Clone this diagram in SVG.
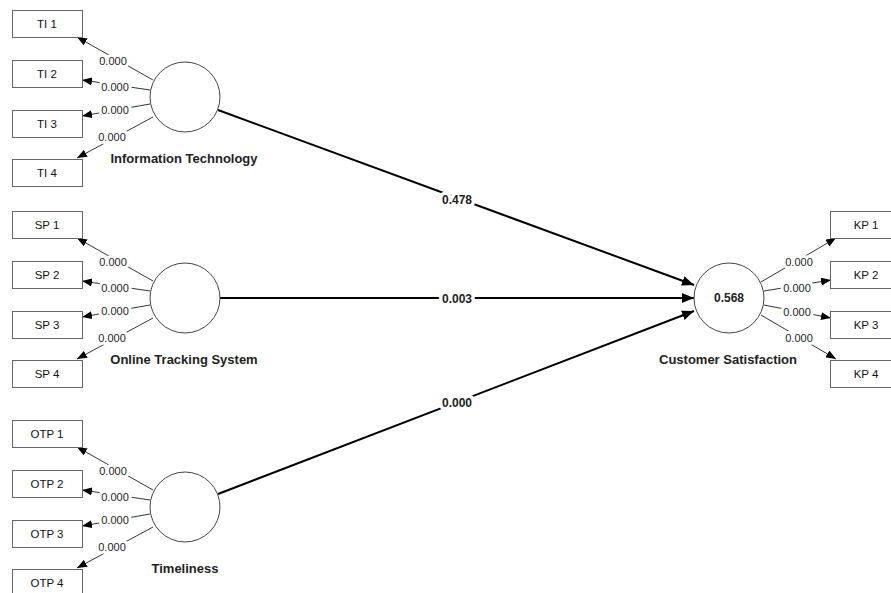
<svg xmlns="http://www.w3.org/2000/svg" width="891" height="593" viewBox="0 0 891 593">
<defs>
<style>
.box{fill:#fff;stroke:#666;stroke-width:1}
.lv{fill:#fff;stroke:#444;stroke-width:1}
.bt{font-family:"Liberation Sans",Arial,sans-serif;font-size:11.5px;fill:#111;text-anchor:middle}
.ld{font-family:"Liberation Sans",Arial,sans-serif;font-size:11px;fill:#222;text-anchor:middle;paint-order:stroke;stroke:#fff;stroke-width:6px;stroke-linejoin:round}
.pc{font-family:"Liberation Sans",Arial,sans-serif;font-size:12px;font-weight:bold;fill:#222;text-anchor:middle;paint-order:stroke;stroke:#fff;stroke-width:7px;stroke-linejoin:round}
.nl{font-family:"Liberation Sans",Arial,sans-serif;font-size:13px;font-weight:bold;fill:#222;text-anchor:middle}
.r2{font-family:"Liberation Sans",Arial,sans-serif;font-size:12px;font-weight:bold;fill:#222;text-anchor:middle}
.ol{stroke:#333;stroke-width:1;fill:none;marker-end:url(#a)}
.pl{stroke:#000;stroke-width:2;fill:none;marker-end:url(#b)}
</style>
<marker id="a" viewBox="0 0 10 8" refX="10" refY="4" markerWidth="10" markerHeight="8" orient="auto" markerUnits="userSpaceOnUse"><path d="M0,0L10,4L0,8z" fill="#000"/></marker>
<marker id="b" viewBox="0 0 12 10" refX="12" refY="5" markerWidth="12" markerHeight="10" orient="auto" markerUnits="userSpaceOnUse"><path d="M0,0L12,5L0,10z" fill="#000"/></marker>
</defs>
<rect width="891" height="593" fill="#fff"/>

<g id="connectors">
<!-- IT outer -->
<line class="ol" x1="153" y1="80" x2="77" y2="37"/>
<line class="ol" x1="150" y1="90" x2="82" y2="80"/>
<line class="ol" x1="150" y1="104" x2="82" y2="116"/>
<line class="ol" x1="153" y1="117" x2="77" y2="158"/>
<!-- SP outer -->
<line class="ol" x1="153" y1="281" x2="77" y2="238"/>
<line class="ol" x1="150" y1="291" x2="82" y2="281"/>
<line class="ol" x1="150" y1="305" x2="82" y2="317"/>
<line class="ol" x1="153" y1="318" x2="77" y2="359"/>
<!-- T outer -->
<line class="ol" x1="153" y1="490" x2="77" y2="447"/>
<line class="ol" x1="150" y1="500" x2="82" y2="490"/>
<line class="ol" x1="150" y1="514" x2="82" y2="526"/>
<line class="ol" x1="153" y1="527" x2="77" y2="568"/>
<!-- CS outer -->
<line class="ol" x1="761" y1="282" x2="836" y2="238"/>
<line class="ol" x1="764" y1="291" x2="831" y2="280"/>
<line class="ol" x1="764" y1="305" x2="831" y2="318"/>
<line class="ol" x1="761" y1="315" x2="836" y2="359"/>
<!-- paths -->
<line class="pl" x1="218" y1="110" x2="694" y2="285"/>
<line class="pl" x1="220" y1="298" x2="694" y2="298"/>
<line class="pl" x1="218" y1="494" x2="694" y2="311"/>
<!-- loadings -->
<text class="ld" x="113" y="65">0.000</text>
<text class="ld" x="115" y="91">0.000</text>
<text class="ld" x="115" y="114">0.000</text>
<text class="ld" x="112" y="141">0.000</text>
<text class="ld" x="113" y="266">0.000</text>
<text class="ld" x="115" y="292">0.000</text>
<text class="ld" x="115" y="315">0.000</text>
<text class="ld" x="112" y="342">0.000</text>
<text class="ld" x="113" y="475">0.000</text>
<text class="ld" x="115" y="501">0.000</text>
<text class="ld" x="115" y="524">0.000</text>
<text class="ld" x="112" y="551">0.000</text>
<text class="ld" x="799" y="266">0.000</text>
<text class="ld" x="797" y="292">0.000</text>
<text class="ld" x="797" y="316">0.000</text>
<text class="ld" x="799" y="342">0.000</text>
<text class="pc" x="457" y="204">0.478</text>
<text class="pc" x="457" y="303">0.003</text>
<text class="pc" x="457" y="407">0.000</text>
</g>

<g id="TI1"><rect class="box" x="12.5" y="10.5" width="70" height="27"/><text class="bt" x="47" y="28">TI 1</text></g>
<g id="TI2"><rect class="box" x="12.5" y="60.5" width="70" height="27"/><text class="bt" x="47" y="78">TI 2</text></g>
<g id="TI3"><rect class="box" x="12.5" y="110.5" width="70" height="27"/><text class="bt" x="47" y="128">TI 3</text></g>
<g id="TI4"><rect class="box" x="12.5" y="159.5" width="70" height="27"/><text class="bt" x="47" y="177">TI 4</text></g>

<g id="SP1"><rect class="box" x="12.5" y="211.5" width="70" height="27"/><text class="bt" x="47" y="229">SP 1</text></g>
<g id="SP2"><rect class="box" x="12.5" y="261.5" width="70" height="27"/><text class="bt" x="47" y="279">SP 2</text></g>
<g id="SP3"><rect class="box" x="12.5" y="311.5" width="70" height="27"/><text class="bt" x="47" y="329">SP 3</text></g>
<g id="SP4"><rect class="box" x="12.5" y="360.5" width="70" height="27"/><text class="bt" x="47" y="378">SP 4</text></g>

<g id="OTP1"><rect class="box" x="12.5" y="420.5" width="70" height="27"/><text class="bt" x="47" y="438">OTP 1</text></g>
<g id="OTP2"><rect class="box" x="12.5" y="470.5" width="70" height="27"/><text class="bt" x="47" y="488">OTP 2</text></g>
<g id="OTP3"><rect class="box" x="12.5" y="520.5" width="70" height="27"/><text class="bt" x="47" y="538">OTP 3</text></g>
<g id="OTP4"><rect class="box" x="12.5" y="569.5" width="70" height="27"/><text class="bt" x="47" y="587">OTP 4</text></g>

<g id="KP1"><rect class="box" x="830.5" y="211.5" width="72" height="27"/><text class="bt" x="866" y="229">KP 1</text></g>
<g id="KP2"><rect class="box" x="830.5" y="261.5" width="72" height="27"/><text class="bt" x="866" y="279">KP 2</text></g>
<g id="KP3"><rect class="box" x="830.5" y="311.5" width="72" height="27"/><text class="bt" x="866" y="329">KP 3</text></g>
<g id="KP4"><rect class="box" x="830.5" y="360.5" width="72" height="27"/><text class="bt" x="866" y="378">KP 4</text></g>

<g id="IT"><circle class="lv" cx="185" cy="97" r="35"/><text class="nl" x="184" y="163">Information Technology</text></g>
<g id="OTS"><circle class="lv" cx="185" cy="298" r="35"/><text class="nl" x="184" y="364">Online Tracking System</text></g>
<g id="TL"><circle class="lv" cx="185" cy="507" r="35"/><text class="nl" x="185" y="573">Timeliness</text></g>
<g id="CS"><circle class="lv" cx="729" cy="298" r="35"/><text class="r2" x="729" y="302">0.568</text><text class="nl" x="728" y="364">Customer Satisfaction</text></g>
</svg>
